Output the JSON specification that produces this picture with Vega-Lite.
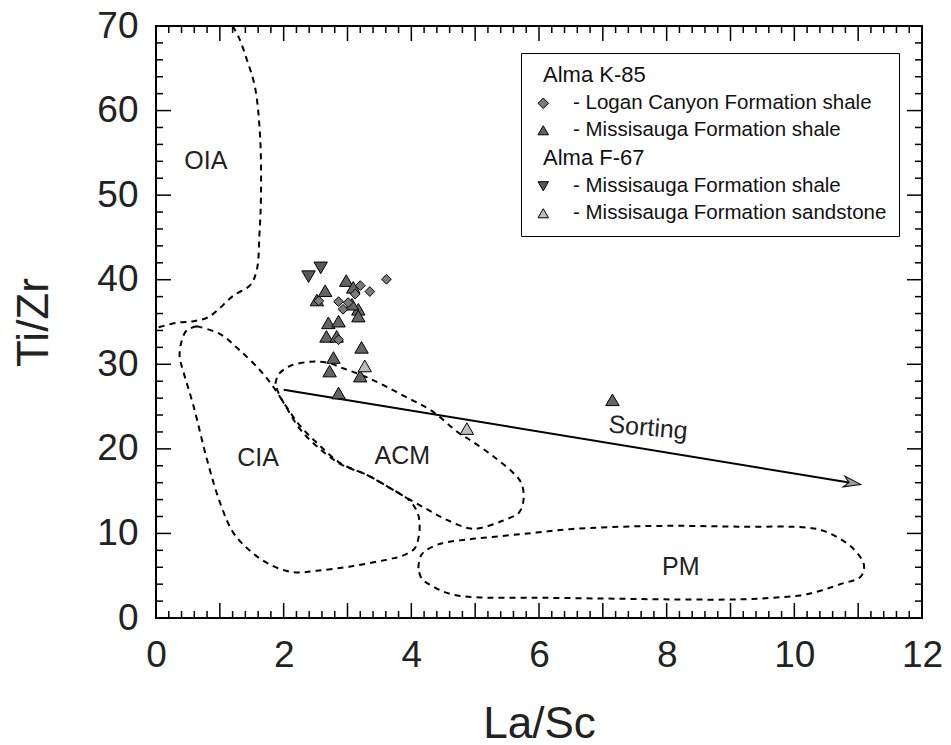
{
  "$schema": "https://vega.github.io/schema/vega-lite/v6.json",
  "width": 766,
  "height": 592,
  "autosize": "none",
  "padding": {"left": 156, "top": 26, "right": 29, "bottom": 127},
  "background": "white",
  "config": {
    "view": {"stroke": "black", "strokeWidth": 2},
    "font": "Liberation Sans",
    "axis": {
      "domain": false, "grid": false, "ticks": false,
      "labelFont": "Liberation Sans", "labelFontSize": 37, "labelColor": "#222",
      "labelOverlap": false, "labelFlush": false, "labelBound": false,
      "titleFont": "Liberation Sans", "titleFontSize": 44, "titleFontWeight": "normal", "titleColor": "#222"
    }
  },
  "datasets": {
    "xmajor": [{"v": 0}, {"v": 1}, {"v": 2}, {"v": 3}, {"v": 4}, {"v": 5}, {"v": 6}, {"v": 7}, {"v": 8}, {"v": 9}, {"v": 10}, {"v": 11}, {"v": 12}],
    "xminor": [{"v": 0.2}, {"v": 0.4}, {"v": 0.6}, {"v": 0.8}, {"v": 1.2}, {"v": 1.4}, {"v": 1.6}, {"v": 1.8}, {"v": 2.2}, {"v": 2.4}, {"v": 2.6}, {"v": 2.8}, {"v": 3.2}, {"v": 3.4}, {"v": 3.6}, {"v": 3.8}, {"v": 4.2}, {"v": 4.4}, {"v": 4.6}, {"v": 4.8}, {"v": 5.2}, {"v": 5.4}, {"v": 5.6}, {"v": 5.8}, {"v": 6.2}, {"v": 6.4}, {"v": 6.6}, {"v": 6.8}, {"v": 7.2}, {"v": 7.4}, {"v": 7.6}, {"v": 7.8}, {"v": 8.2}, {"v": 8.4}, {"v": 8.6}, {"v": 8.8}, {"v": 9.2}, {"v": 9.4}, {"v": 9.6}, {"v": 9.8}, {"v": 10.2}, {"v": 10.4}, {"v": 10.6}, {"v": 10.8}, {"v": 11.2}, {"v": 11.4}, {"v": 11.6}, {"v": 11.8}],
    "ymajor": [{"v": 0}, {"v": 10}, {"v": 20}, {"v": 30}, {"v": 40}, {"v": 50}, {"v": 60}, {"v": 70}],
    "yminor": [{"v": 2}, {"v": 4}, {"v": 6}, {"v": 8}, {"v": 12}, {"v": 14}, {"v": 16}, {"v": 18}, {"v": 22}, {"v": 24}, {"v": 26}, {"v": 28}, {"v": 32}, {"v": 34}, {"v": 36}, {"v": 38}, {"v": 42}, {"v": 44}, {"v": 46}, {"v": 48}, {"v": 52}, {"v": 54}, {"v": 56}, {"v": 58}, {"v": 62}, {"v": 64}, {"v": 66}, {"v": 68}],
    "fields": [
      {"region": "OIA", "i": 0, "x": 1.2, "y": 70},
      {"region": "OIA", "i": 1, "x": 1.3, "y": 68.6},
      {"region": "OIA", "i": 2, "x": 1.42, "y": 66.1},
      {"region": "OIA", "i": 3, "x": 1.55, "y": 62.8},
      {"region": "OIA", "i": 4, "x": 1.63, "y": 57.0},
      {"region": "OIA", "i": 5, "x": 1.645, "y": 50.2},
      {"region": "OIA", "i": 6, "x": 1.62, "y": 45.3},
      {"region": "OIA", "i": 7, "x": 1.58, "y": 41.2},
      {"region": "OIA", "i": 8, "x": 1.48, "y": 39.4},
      {"region": "OIA", "i": 9, "x": 1.21, "y": 38.1},
      {"region": "OIA", "i": 10, "x": 0.95, "y": 36.3},
      {"region": "OIA", "i": 11, "x": 0.8, "y": 35.5},
      {"region": "OIA", "i": 12, "x": 0.59, "y": 35.1},
      {"region": "OIA", "i": 13, "x": 0.32, "y": 34.9},
      {"region": "OIA", "i": 14, "x": 0.0, "y": 34.3},
      {"region": "CIA", "i": 0, "x": 0.64, "y": 34.5},
      {"region": "CIA", "i": 1, "x": 1.0, "y": 33.6},
      {"region": "CIA", "i": 2, "x": 1.29, "y": 31.8},
      {"region": "CIA", "i": 3, "x": 1.63, "y": 29.3},
      {"region": "CIA", "i": 4, "x": 1.84, "y": 27.3},
      {"region": "CIA", "i": 5, "x": 2.05, "y": 24.9},
      {"region": "CIA", "i": 6, "x": 2.26, "y": 22.7},
      {"region": "CIA", "i": 7, "x": 2.55, "y": 20.5},
      {"region": "CIA", "i": 8, "x": 2.89, "y": 18.3},
      {"region": "CIA", "i": 9, "x": 3.31, "y": 16.9},
      {"region": "CIA", "i": 10, "x": 3.68, "y": 15.3},
      {"region": "CIA", "i": 11, "x": 3.97, "y": 13.9},
      {"region": "CIA", "i": 12, "x": 4.1, "y": 12.4},
      {"region": "CIA", "i": 13, "x": 4.13, "y": 10.9},
      {"region": "CIA", "i": 14, "x": 4.11, "y": 9.4},
      {"region": "CIA", "i": 15, "x": 4.05, "y": 8.2},
      {"region": "CIA", "i": 16, "x": 3.84, "y": 7.3},
      {"region": "CIA", "i": 17, "x": 3.68, "y": 7.0},
      {"region": "CIA", "i": 18, "x": 3.05, "y": 6.1},
      {"region": "CIA", "i": 19, "x": 2.52, "y": 5.6},
      {"region": "CIA", "i": 20, "x": 2.16, "y": 5.4},
      {"region": "CIA", "i": 21, "x": 1.79, "y": 6.3},
      {"region": "CIA", "i": 22, "x": 1.48, "y": 7.9},
      {"region": "CIA", "i": 23, "x": 1.21, "y": 10.1},
      {"region": "CIA", "i": 24, "x": 1.0, "y": 13.7},
      {"region": "CIA", "i": 25, "x": 0.8, "y": 18.7},
      {"region": "CIA", "i": 26, "x": 0.59, "y": 25.0},
      {"region": "CIA", "i": 27, "x": 0.43, "y": 29.1},
      {"region": "CIA", "i": 28, "x": 0.37, "y": 30.9},
      {"region": "CIA", "i": 29, "x": 0.4, "y": 32.7},
      {"region": "CIA", "i": 30, "x": 0.48, "y": 34.0},
      {"region": "CIA", "i": 31, "x": 0.64, "y": 34.5},
      {"region": "ACM", "i": 0, "x": 1.87, "y": 27.7},
      {"region": "ACM", "i": 1, "x": 1.92, "y": 28.8},
      {"region": "ACM", "i": 2, "x": 2.1, "y": 29.8},
      {"region": "ACM", "i": 3, "x": 2.42, "y": 30.3},
      {"region": "ACM", "i": 4, "x": 2.68, "y": 30.2},
      {"region": "ACM", "i": 5, "x": 2.94, "y": 29.5},
      {"region": "ACM", "i": 6, "x": 3.26, "y": 28.6},
      {"region": "ACM", "i": 7, "x": 3.57, "y": 27.5},
      {"region": "ACM", "i": 8, "x": 3.95, "y": 26.0},
      {"region": "ACM", "i": 9, "x": 4.32, "y": 24.5},
      {"region": "ACM", "i": 10, "x": 4.74, "y": 21.9},
      {"region": "ACM", "i": 11, "x": 4.95, "y": 20.9},
      {"region": "ACM", "i": 12, "x": 5.27, "y": 19.2},
      {"region": "ACM", "i": 13, "x": 5.59, "y": 17.2},
      {"region": "ACM", "i": 14, "x": 5.72, "y": 16.0},
      {"region": "ACM", "i": 15, "x": 5.76, "y": 14.2},
      {"region": "ACM", "i": 16, "x": 5.69, "y": 12.5},
      {"region": "ACM", "i": 17, "x": 5.43, "y": 11.5},
      {"region": "ACM", "i": 18, "x": 5.06, "y": 10.6},
      {"region": "ACM", "i": 19, "x": 4.9, "y": 10.6},
      {"region": "ACM", "i": 20, "x": 4.53, "y": 11.7},
      {"region": "ACM", "i": 21, "x": 4.21, "y": 13.0},
      {"region": "ACM", "i": 22, "x": 3.84, "y": 14.6},
      {"region": "ACM", "i": 23, "x": 3.68, "y": 15.3},
      {"region": "ACM", "i": 24, "x": 3.31, "y": 16.9},
      {"region": "ACM", "i": 25, "x": 2.89, "y": 18.2},
      {"region": "ACM", "i": 26, "x": 2.52, "y": 20.3},
      {"region": "ACM", "i": 27, "x": 2.26, "y": 22.3},
      {"region": "ACM", "i": 28, "x": 2.05, "y": 24.8},
      {"region": "ACM", "i": 29, "x": 1.92, "y": 26.6},
      {"region": "ACM", "i": 30, "x": 1.87, "y": 27.7},
      {"region": "PM", "i": 0, "x": 4.11, "y": 5.9},
      {"region": "PM", "i": 1, "x": 4.16, "y": 7.5},
      {"region": "PM", "i": 2, "x": 4.42, "y": 8.7},
      {"region": "PM", "i": 3, "x": 4.9, "y": 9.3},
      {"region": "PM", "i": 4, "x": 5.43, "y": 9.7},
      {"region": "PM", "i": 5, "x": 5.96, "y": 10.1},
      {"region": "PM", "i": 6, "x": 6.48, "y": 10.5},
      {"region": "PM", "i": 7, "x": 7.12, "y": 10.75},
      {"region": "PM", "i": 8, "x": 8.07, "y": 10.9},
      {"region": "PM", "i": 9, "x": 9.13, "y": 10.8},
      {"region": "PM", "i": 10, "x": 10.19, "y": 10.7},
      {"region": "PM", "i": 11, "x": 10.46, "y": 10.3},
      {"region": "PM", "i": 12, "x": 10.88, "y": 8.5},
      {"region": "PM", "i": 13, "x": 11.09, "y": 6.3},
      {"region": "PM", "i": 14, "x": 11.04, "y": 4.9},
      {"region": "PM", "i": 15, "x": 10.72, "y": 4.0},
      {"region": "PM", "i": 16, "x": 10.19, "y": 2.8},
      {"region": "PM", "i": 17, "x": 9.66, "y": 2.4},
      {"region": "PM", "i": 18, "x": 9.13, "y": 2.2},
      {"region": "PM", "i": 19, "x": 8.07, "y": 2.2},
      {"region": "PM", "i": 20, "x": 7.02, "y": 2.3},
      {"region": "PM", "i": 21, "x": 5.96, "y": 2.4},
      {"region": "PM", "i": 22, "x": 5.0, "y": 2.45},
      {"region": "PM", "i": 23, "x": 4.63, "y": 2.8},
      {"region": "PM", "i": 24, "x": 4.37, "y": 3.6},
      {"region": "PM", "i": 25, "x": 4.16, "y": 4.7},
      {"region": "PM", "i": 26, "x": 4.11, "y": 5.9}
    ],
    "arrow": [
      {"x": 2.0, "y": 27.0},
      {"x": 11.0, "y": 15.85}
    ],
    "tip": [
      {"x": 11.04, "y": 15.8}
    ],
    "labels": [
      {"label": "OIA", "x": 0.78, "y": 54.0},
      {"label": "CIA", "x": 1.6, "y": 18.9},
      {"label": "ACM", "x": 3.86, "y": 19.1},
      {"label": "PM", "x": 8.22, "y": 6.0}
    ],
    "sorting": [
      {"label": "Sorting", "x": 7.71, "y": 22.5}
    ],
    "pts": [
      {"cat": "K2", "x": 2.98, "y": 39.9},
      {"cat": "K2", "x": 2.65, "y": 38.7},
      {"cat": "K2", "x": 2.52, "y": 37.6},
      {"cat": "K2", "x": 3.09, "y": 39.1},
      {"cat": "K2", "x": 3.17, "y": 36.5},
      {"cat": "K2", "x": 3.17, "y": 35.7},
      {"cat": "K2", "x": 3.07, "y": 37.1},
      {"cat": "K2", "x": 2.70, "y": 34.9},
      {"cat": "K2", "x": 2.86, "y": 35.1},
      {"cat": "K2", "x": 2.67, "y": 33.3},
      {"cat": "K2", "x": 2.83, "y": 33.3},
      {"cat": "K2", "x": 2.78, "y": 30.8},
      {"cat": "K2", "x": 3.22, "y": 32.0},
      {"cat": "K2", "x": 2.72, "y": 29.2},
      {"cat": "K2", "x": 3.20, "y": 28.6},
      {"cat": "K2", "x": 2.86, "y": 26.6},
      {"cat": "K2", "x": 7.15, "y": 25.8},
      {"cat": "F1", "x": 2.39, "y": 40.36},
      {"cat": "F1", "x": 2.58, "y": 41.4},
      {"cat": "F2", "x": 3.27, "y": 29.8},
      {"cat": "F2", "x": 4.87, "y": 22.4},
      {"cat": "K1", "x": 3.61, "y": 40.05},
      {"cat": "K1", "x": 3.35, "y": 38.6},
      {"cat": "K1", "x": 2.86, "y": 37.4},
      {"cat": "K1", "x": 3.2, "y": 39.3},
      {"cat": "K1", "x": 3.12, "y": 38.3},
      {"cat": "K1", "x": 3.01, "y": 37.3},
      {"cat": "K1", "x": 2.93, "y": 36.5},
      {"cat": "K1", "x": 2.55, "y": 37.5},
      {"cat": "K1", "x": 2.86, "y": 32.9}
    ]
  },
  "layer": [
    {
      "data": {"name": "fields"},
      "mark": {"type": "line", "color": "black", "strokeWidth": 2, "strokeDash": [6, 5], "interpolate": "catmull-rom", "clip": true},
      "encoding": {
        "x": {
          "field": "x", "type": "quantitative",
          "scale": {"domain": [0, 12], "nice": false, "zero": false},
          "axis": {
            "orient": "bottom",
            "values": [0,2,4,6,8,10,12],
            "format": ".0f",
            "labelPadding": 19,
            "title": "La/Sc",
            "titleY": 119,
            "titleBaseline": "alphabetic"
          }
        },
        "y": {
          "field": "y", "type": "quantitative",
          "scale": {"domain": [0, 70], "nice": false, "zero": false},
          "axis": {
            "orient": "left",
            "values": [0,10,20,30,40,50,60,70],
            "format": ".0f",
            "labelPadding": 18,
            "title": "Ti/Zr",
            "titleX": -109,
            "titleBaseline": "alphabetic"
          }
        },
        "detail": {"field": "region", "type": "nominal"},
        "order": {"field": "i", "type": "quantitative"}
      }
    },
    {
      "data": {"name": "xmajor"},
      "mark": {"type": "tick", "orient": "vertical", "size": 15, "thickness": 1.5, "color": "black", "opacity": 1, "yOffset": -7.5},
      "encoding": {"x": {"field": "v", "type": "quantitative"}, "y": {"datum": 0, "type": "quantitative"}}
    },
    {
      "data": {"name": "xmajor"},
      "mark": {"type": "tick", "orient": "vertical", "size": 15, "thickness": 1.5, "color": "black", "opacity": 1, "yOffset": 7.5},
      "encoding": {"x": {"field": "v", "type": "quantitative"}, "y": {"datum": 70, "type": "quantitative"}}
    },
    {
      "data": {"name": "xminor"},
      "mark": {"type": "tick", "orient": "vertical", "size": 7, "thickness": 1.5, "color": "black", "opacity": 1, "yOffset": -3.5},
      "encoding": {"x": {"field": "v", "type": "quantitative"}, "y": {"datum": 0, "type": "quantitative"}}
    },
    {
      "data": {"name": "xminor"},
      "mark": {"type": "tick", "orient": "vertical", "size": 7, "thickness": 1.5, "color": "black", "opacity": 1, "yOffset": 3.5},
      "encoding": {"x": {"field": "v", "type": "quantitative"}, "y": {"datum": 70, "type": "quantitative"}}
    },
    {
      "data": {"name": "ymajor"},
      "mark": {"type": "tick", "orient": "horizontal", "size": 15, "thickness": 1.5, "color": "black", "opacity": 1, "xOffset": 7.5},
      "encoding": {"y": {"field": "v", "type": "quantitative"}, "x": {"datum": 0, "type": "quantitative"}}
    },
    {
      "data": {"name": "ymajor"},
      "mark": {"type": "tick", "orient": "horizontal", "size": 15, "thickness": 1.5, "color": "black", "opacity": 1, "xOffset": -7.5},
      "encoding": {"y": {"field": "v", "type": "quantitative"}, "x": {"datum": 12, "type": "quantitative"}}
    },
    {
      "data": {"name": "yminor"},
      "mark": {"type": "tick", "orient": "horizontal", "size": 7, "thickness": 1.5, "color": "black", "opacity": 1, "xOffset": 3.5},
      "encoding": {"y": {"field": "v", "type": "quantitative"}, "x": {"datum": 0, "type": "quantitative"}}
    },
    {
      "data": {"name": "yminor"},
      "mark": {"type": "tick", "orient": "horizontal", "size": 7, "thickness": 1.5, "color": "black", "opacity": 1, "xOffset": -3.5},
      "encoding": {"y": {"field": "v", "type": "quantitative"}, "x": {"datum": 12, "type": "quantitative"}}
    },
    {
      "data": {"name": "arrow"},
      "mark": {"type": "line", "color": "black", "strokeWidth": 2},
      "encoding": {
        "x": {"field": "x", "type": "quantitative"},
        "y": {"field": "y", "type": "quantitative"}
      }
    },
    {
      "data": {"name": "tip"},
      "mark": {"type": "point", "shape": "M0,0L-2,-0.65L-1.4,0L-2,0.65Z", "angle": 9.3, "size": 290, "filled": true, "fill": "#9a9a9a", "stroke": "black", "strokeWidth": 1, "opacity": 1},
      "encoding": {
        "x": {"field": "x", "type": "quantitative"},
        "y": {"field": "y", "type": "quantitative"}
      }
    },
    {
      "data": {"name": "labels"},
      "mark": {"type": "text", "font": "Liberation Sans", "fontSize": 25, "color": "#222", "align": "center", "baseline": "middle"},
      "encoding": {
        "x": {"field": "x", "type": "quantitative"},
        "y": {"field": "y", "type": "quantitative"},
        "text": {"field": "label"}
      }
    },
    {
      "data": {"name": "sorting"},
      "mark": {"type": "text", "font": "Liberation Sans", "fontSize": 25, "color": "#222", "align": "center", "baseline": "middle", "angle": 5},
      "encoding": {
        "x": {"field": "x", "type": "quantitative"},
        "y": {"field": "y", "type": "quantitative"},
        "text": {"field": "label"}
      }
    },
    {
      "data": {"name": "pts"},
      "transform": [{"filter": "datum.cat != 'K1'"}],
      "mark": {"type": "point", "filled": true, "stroke": "black", "strokeWidth": 1, "opacity": 1, "size": 180},
      "encoding": {
        "x": {"field": "x", "type": "quantitative"},
        "y": {"field": "y", "type": "quantitative"},
        "color": {
          "field": "cat", "type": "nominal",
          "scale": {"domain": ["hK", "K1", "K2", "hF", "F1", "F2"], "range": ["white", "#7c7c7c", "#646464", "white", "#585858", "#bdbdbd"]},
          "legend": {
            "title": null, "orient": "none", "legendX": 365, "legendY": 27, "direction": "vertical",
            "padding": 12, "strokeColor": "black", "fillColor": "white",
            "symbolSize": 110, "symbolStrokeColor": "black", "symbolStrokeWidth": 1,
            "labelFont": "Liberation Sans", "labelColor": "#111", "labelLimit": 400,
            "labelFontSize": {"expr": "(datum.value == 'hK' || datum.value == 'hF') ? 22 : 20.5"},
            "rowPadding": 6,
            "labelOffset": {"expr": "(datum.value == 'hK' || datum.value == 'hF') ? -10.5 : 19.5"},
            "labelExpr": "datum.value == 'hK' ? 'Alma K-85' : datum.value == 'hF' ? 'Alma F-67' : datum.value == 'K1' ? '- Logan Canyon Formation shale' : datum.value == 'F2' ? '- Missisauga Formation sandstone' : '- Missisauga Formation shale'"
          }
        },
        "shape": {
          "field": "cat", "type": "nominal",
          "scale": {"domain": ["hK", "K1", "K2", "hF", "F1", "F2"], "range": ["M0,0", "diamond", "triangle-up", "M0,0", "triangle-down", "triangle-up"]},
          "legend": {
            "title": null, "orient": "none", "legendX": 365, "legendY": 27, "direction": "vertical",
            "padding": 12, "strokeColor": "black", "fillColor": "white",
            "symbolSize": 110, "symbolStrokeColor": "black", "symbolStrokeWidth": 1,
            "labelFont": "Liberation Sans", "labelColor": "#111", "labelLimit": 400,
            "labelFontSize": {"expr": "(datum.value == 'hK' || datum.value == 'hF') ? 22 : 20.5"},
            "rowPadding": 6,
            "labelOffset": {"expr": "(datum.value == 'hK' || datum.value == 'hF') ? -10.5 : 19.5"},
            "labelExpr": "datum.value == 'hK' ? 'Alma K-85' : datum.value == 'hF' ? 'Alma F-67' : datum.value == 'K1' ? '- Logan Canyon Formation shale' : datum.value == 'F2' ? '- Missisauga Formation sandstone' : '- Missisauga Formation shale'"
          }
        }
      }
    },
    {
      "data": {"name": "pts"},
      "transform": [{"filter": "datum.cat == 'K1'"}],
      "mark": {"type": "point", "filled": true, "stroke": "black", "strokeWidth": 1, "opacity": 1, "size": 95},
      "encoding": {
        "x": {"field": "x", "type": "quantitative"},
        "y": {"field": "y", "type": "quantitative"},
        "color": {"field": "cat", "type": "nominal"},
        "shape": {"field": "cat", "type": "nominal"}
      }
    }
  ]
}
